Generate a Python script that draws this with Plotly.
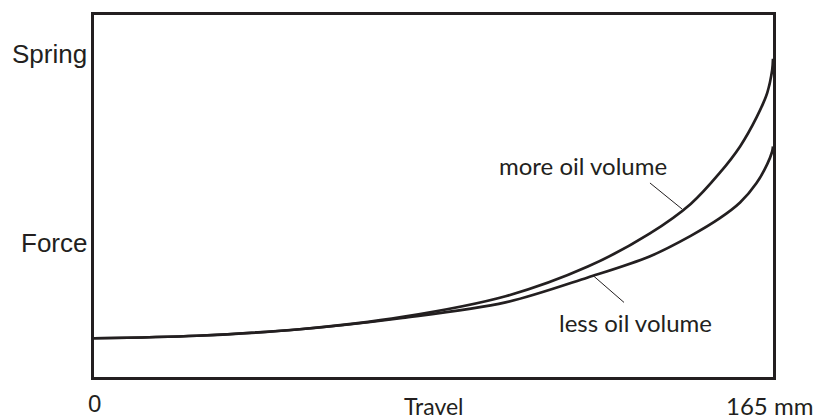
import plotly.graph_objects as go

# Travel (mm) and relative spring force (0-100 scale of the plot height)
travel_mm = [0, 25, 50, 75, 100, 120, 135, 145, 152, 157, 161, 163.6, 164.8, 165]
force_more_oil = [10.7, 11.4, 13.2, 16.6, 22.3, 30.5, 39.6, 47.8, 56.3, 63.7, 71.7, 78.5, 84.8, 87.9]
force_less_oil = [10.7, 11.4, 13.2, 16.3, 20.6, 27.5, 33.3, 39.0, 43.8, 48.2, 53.6, 58.8, 62.3, 63.7]

series_names = ["more oil volume", "less oil volume"]

# leader lines from label to curve (data coordinates)
leader_more_x = [135.1, 142.9]
leader_more_y = [53.6, 46.4]
leader_less_x = [121.3, 128.8]
leader_less_y = [28.0, 20.6]

# label positions
label_more_pos = (118.8, 58.3)
label_less_pos = (131.5, 15.1)

y_axis_words = ["Spring", "Force"]
y_axis_word_pos = [89.1, 37.0]
x_tick_labels = ["0", "165 mm"]
x_title = "Travel"

INK = "#231f20"
SANS = "Liberation Sans, Arial, sans-serif"
HUM = "Lato, Open Sans, sans-serif"

fig = go.Figure()
fig.add_trace(go.Scatter(x=travel_mm, y=force_more_oil, mode="lines",
                         line=dict(color=INK, width=2.7, shape="spline", smoothing=0.9),
                         name=series_names[0], hoverinfo="skip"))
fig.add_trace(go.Scatter(x=travel_mm, y=force_less_oil, mode="lines",
                         line=dict(color=INK, width=2.7, shape="spline", smoothing=0.9),
                         name=series_names[1], hoverinfo="skip"))
fig.add_trace(go.Scatter(x=leader_more_x, y=leader_more_y, mode="lines",
                         line=dict(color=INK, width=1), hoverinfo="skip"))
fig.add_trace(go.Scatter(x=leader_less_x, y=leader_less_y, mode="lines",
                         line=dict(color=INK, width=1), hoverinfo="skip"))

ann = []
ann.append(dict(x=label_more_pos[0], y=label_more_pos[1], xref="x", yref="y",
                text=series_names[0], showarrow=False, xanchor="center", yanchor="middle",
                font=dict(family=HUM, size=24, color=INK)))
ann.append(dict(x=label_less_pos[0], y=label_less_pos[1], xref="x", yref="y",
                text=series_names[1], showarrow=False, xanchor="center", yanchor="middle",
                font=dict(family=HUM, size=24, color=INK)))
for w, yy in zip(y_axis_words, y_axis_word_pos):
    ann.append(dict(x=0, y=yy, xref="paper", yref="y", text=w, showarrow=False,
                    xanchor="right", yanchor="middle", xshift=-5,
                    font=dict(family=SANS, size=26, color=INK)))
ann.append(dict(x=0, y=-0.073, xref="paper", yref="paper", text=x_tick_labels[0],
                showarrow=False, xanchor="center", yanchor="middle",
                font=dict(family=SANS, size=24, color=INK)))
ann.append(dict(x=1.0, y=-0.08, xref="paper", yref="paper", text=x_tick_labels[1],
                showarrow=False, xanchor="center", yanchor="middle", xshift=-4,
                font=dict(family=HUM, size=24, color=INK)))
ann.append(dict(x=0.5, y=-0.08, xref="paper", yref="paper", text=x_title,
                showarrow=False, xanchor="center", yanchor="middle", xshift=0,
                font=dict(family=HUM, size=23, color=INK)))

fig.update_layout(
    width=817, height=420,
    margin=dict(l=94, r=44, t=13, b=43),
    paper_bgcolor="white", plot_bgcolor="white",
    showlegend=False,
    hovermode=False,
    annotations=ann,
    xaxis=dict(range=[0, 165], showgrid=False, zeroline=False, showticklabels=False,
               ticks="", showline=True, mirror=True, linecolor=INK, linewidth=3),
    yaxis=dict(range=[0, 100], showgrid=False, zeroline=False, showticklabels=False,
               ticks="", showline=True, mirror=True, linecolor=INK, linewidth=3),
)

fig.write_html("out.html",
               config={"displayModeBar": False},
               post_script="document.body.style.margin='0';document.body.style.overflow='hidden';")
